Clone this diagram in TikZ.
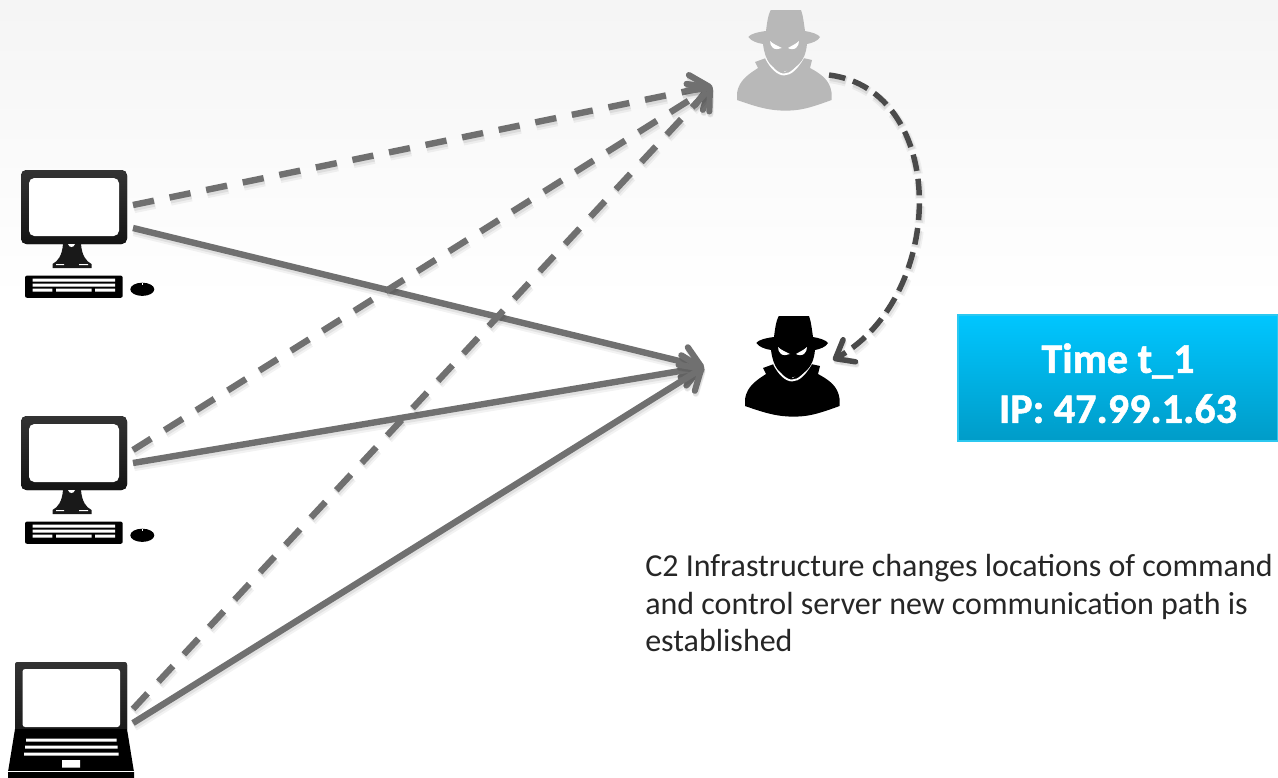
\documentclass[tikz,border=0pt]{standalone}
\usepackage{fontspec}
\setmainfont[BoldFeatures={FakeBold=1.2}]{Carlito}
\usetikzlibrary{arrows.meta,calc}
\definecolor{lineg}{HTML}{707070}
\definecolor{lined}{HTML}{4A4A4A}
\definecolor{boxtop}{HTML}{00C6FF}
\definecolor{boxbot}{HTML}{009CC8}
\definecolor{boxedge}{HTML}{2CC8F0}
\tikzset{
  x=0.75pt,y=-0.75pt,
  iconbox/.style={inner sep=0pt,outer sep=0pt,minimum width=#1},
  softshade/.style={preaction={draw=black,draw opacity=.05,line width=7.5pt,dash pattern=#1,transform canvas={xshift=.8pt,yshift=-2.4pt}},
    preaction={draw=black,draw opacity=.07,line width=5.4pt,dash pattern=#1,transform canvas={xshift=.6pt,yshift=-1.8pt}}},
  bigtip/.style={-{Straight Barb[round,length=13pt,width=23pt,line width=4.6pt]}},
  link/.style={line width=4.8pt,draw=lineg,bigtip,softshade={on 2000pt off 0pt}},
  dashlink/.style={line width=4.8pt,draw=lineg,bigtip,softshade={on 16pt off 12pt},dash pattern=on 16pt off 12pt},
  hoplink/.style={line width=4.1pt,draw=lined,dash pattern=on 12.5pt off 6pt,
    -{Straight Barb[round,length=12pt,width=19pt,line width=4.1pt]},softshade={on 12.5pt off 6pt}},
  captiontext/.style={font=\fontsize{24pt}{28.2pt}\selectfont,align=left,anchor=north west,text=black!85,inner sep=0pt},
  infobox/.style={draw=boxedge,line width=1pt,top color=boxtop,bottom color=boxbot,minimum width=240pt,minimum height=94.5pt,inner sep=0pt,align=center,text=white,font=\bfseries\fontsize{31.6pt}{37.5pt}\selectfont},
  pics/monitor/.style={code={
    \fill[top color=black!80,bottom color=black!92,rounded corners=4pt] (21,0) rectangle (127,74);
    \fill[white,rounded corners=4pt] (29,8) rectangle (119,66);
    \fill[black!90] (63,74) -- (81,74) .. controls (82,86) and (86,91) .. (91.5,94) -- (91.5,98) -- (52.5,98) -- (52.5,94) .. controls (58,91) and (62,86) .. (63,74) -- cycle;
    \fill[white] (68,74) -- (75,74) .. controls (74,78) and (69,78) .. (68,74) -- cycle;
    \fill[white] (56,94.2) rectangle (64,95.2) (79,94.2) rectangle (88,95.2);
    \fill[black,rounded corners=1.5pt] (25,105.6) rectangle (122.7,127.8);
    \fill[white] (32.7,108.5) rectangle (115,111.6) (32.7,113.5) rectangle (115,116.7)
      (32.7,118.7) rectangle (52.3,121.5) (56,118.7) rectangle (91.7,121.5) (95,118.7) rectangle (115,121.5);
    \fill[black] (142.3,119.3) ellipse [x radius=12,y radius=6.6];
    \fill[white] (141.9,112.7) rectangle (142.7,115);
  }},
  pics/laptop/.style={code={
    \fill[top color=black!80,bottom color=black!90,rounded corners=2pt] (15,0) rectangle (127,70);
    \fill[black] (15,67) -- (127,67) -- (134,110) -- (134,116) -- (8,116) -- (8,110) -- cycle;
    \fill[white,rounded corners=2pt] (22.5,7) rectangle (120,65);
    \fill[white] (26,76.5) rectangle (116.5,79.5) (25,83.5) rectangle (117.5,86.5) (24,90.5) rectangle (118.5,93.5)
      (62,98) rectangle (80,105.5);
    \fill[white] (8,109.2) rectangle (134,110);
  }},
  pics/spy/.style={code={
    \fill[#1] (0,83) .. controls (2,70) and (12,64) .. (21,58) -- (18,52) -- (29,48) -- (48,62) -- (66,48) -- (75,50) -- (73,58)
      .. controls (84,64) and (93,70) .. (94.6,83) -- (94.6,90) .. controls (70,99) and (62,100.6) .. (48,100.6)
      .. controls (32,100.6) and (20,97) .. (0,90) -- cycle;
    \draw[white,line width=1.4pt] (29,48) .. controls (34,58) and (41,64.5) .. (47,64.5) .. controls (54,64.5) and (60,58) .. (66,48);
    \fill[#1] (33.7,0) -- (64,0) .. controls (66,5) and (67,14) .. (68,21)
      .. controls (74,22) and (81,24) .. (83,27) .. controls (81,31) and (75,33) .. (70,34)
      .. controls (69,44) and (66,50) .. (62,54) .. controls (57,59) and (52,61) .. (47,61)
      .. controls (43,61) and (37,58) .. (33,54) .. controls (29,49) and (27,42) .. (26,34)
      .. controls (20,33) and (14,31) .. (11.3,27) .. controls (13,24) and (21,22) .. (29,21)
      .. controls (30,13) and (31,5) .. (33.7,0) -- cycle;
    \fill[white] (33,31) .. controls (36,34) and (41,36) .. (45,38) .. controls (42,39.5) and (38,39.5) .. (36,38) .. controls (34,36) and (33,34) .. (33,31) -- cycle;
    \fill[white] (62,31) .. controls (59,34) and (54,36) .. (51,38) .. controls (53,39.5) and (57,39.5) .. (59,38) .. controls (61,36) and (62,34) .. (62,31) -- cycle;
  }},
}
\begin{document}
\begin{tikzpicture}
\path[use as bounding box] (0,0) rectangle (1278,778);
\fill[top color=black!4,bottom color=white] (0,0) rectangle (1278,300);
% icons
\pic at (0,170) {monitor};
\pic at (0,416) {monitor};
\pic at (0,662) {laptop};
\pic at (737,10) {spy={black!28}};
\pic at (745,316) {spy={black}};
% anchor nodes for the icons
\node[iconbox=106pt,minimum height=74pt] (pcA) at (74,207) {};
\node[iconbox=106pt,minimum height=74pt] (pcB) at (74,453) {};
\node[iconbox=112pt,minimum height=74pt] (pcC) at (71,697) {};
\node[iconbox=72pt,minimum height=75pt] (oldsrv) at (785,60) {};
\node[iconbox=72pt,minimum height=75pt] (newsrv) at (793,366) {};
% connector ends
\coordinate (aD) at (133,205);
\coordinate (aS) at (133,228);
\coordinate (bD) at (133,450);
\coordinate (bS) at (133,463);
\coordinate (cD) at (133,709);
\coordinate (cS) at (133,723);
\coordinate (oldin) at (712,86);
\coordinate (newin) at (704,367);
\coordinate (oldout) at (829,75);
\coordinate (newhop) at (833,360);
% solid
\draw[link] (aS) -- (newin);
\draw[link] (bS) -- (newin);
\draw[link] (cS) -- (newin);
% dashed
\draw[dashlink] (aD) -- (oldin);
\draw[dashlink] (bD) -- (oldin);
\draw[dashlink] (cD) -- (oldin);
\draw[hoplink] (oldout) .. controls (948,90) and (948,295) .. (newhop);
% box and caption
\node[infobox] (info) at (1118,378) {\rule{0pt}{30pt}Time t\_1\\IP: 47.99.1.63};
\node[captiontext] (caption) at (645,554) {C2 Infrastructure changes locations of command\\and control server new communication path is\\established};
\end{tikzpicture}
\end{document}
